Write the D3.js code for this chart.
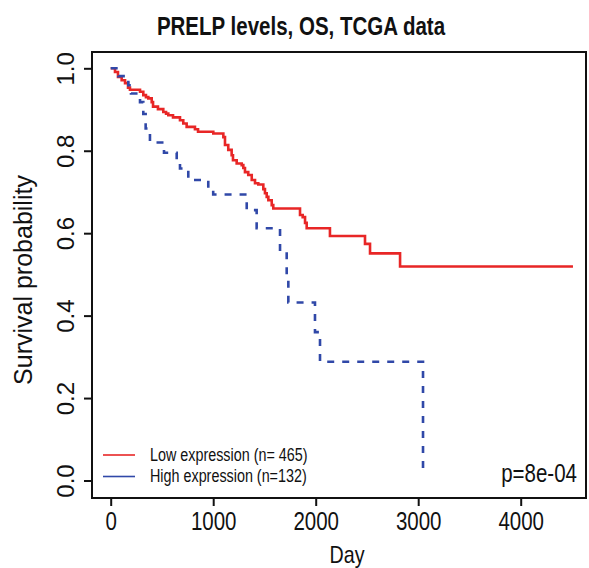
<!DOCTYPE html>
<html>
<head>
<meta charset="utf-8">
<script src="https://cdn.jsdelivr.net/npm/d3@7"></script>
<style>
body { margin: 0; background: #fff; }
text { font-family: "Liberation Sans", Arial, sans-serif; fill: #111; }
</style>
</head>
<body>
<div id="graph"></div>
<script>
var svgWidth = 589;
var svgHeight = 568;

// Low expression (n=465), Kaplan-Meier steps
var lowDays = [0, 42, 71, 107, 140, 169, 188, 286, 318, 344, 367, 400, 413, 461, 513, 540, 562, 608, 676, 708, 741, 822, 852, 1001, 1099, 1115, 1147, 1180, 1193, 1229, 1278, 1294, 1310, 1342, 1376, 1408, 1440, 1489, 1505, 1522, 1538, 1571, 1586, 1847, 1873, 1896, 1912, 2139, 2481, 2530, 2823, 4510];
var lowSurv = [1.0, 0.991, 0.979, 0.971, 0.964, 0.953, 0.948, 0.943, 0.935, 0.930, 0.927, 0.918, 0.907, 0.901, 0.894, 0.890, 0.886, 0.881, 0.874, 0.866, 0.858, 0.852, 0.846, 0.842, 0.833, 0.814, 0.802, 0.789, 0.777, 0.769, 0.765, 0.758, 0.748, 0.741, 0.729, 0.721, 0.718, 0.707, 0.697, 0.688, 0.680, 0.668, 0.660, 0.644, 0.639, 0.625, 0.612, 0.593, 0.574, 0.551, 0.519, 0.519];

// High expression (n=132)
var highDays = [0, 74, 172, 198, 286, 318, 341, 383, 520, 644, 676, 757, 952, 1000, 1327, 1424, 1652, 1717, 1733, 1993, 2042, 3047];
var highSurv = [1.0, 0.981, 0.959, 0.939, 0.918, 0.889, 0.854, 0.820, 0.795, 0.777, 0.757, 0.729, 0.705, 0.694, 0.656, 0.612, 0.555, 0.498, 0.432, 0.360, 0.288, 0.02];

var xTicks = [0, 1000, 2000, 3000, 4000];
var yTicks = [0.0, 0.2, 0.4, 0.6, 0.8, 1.0];

var legendLabels = ["Low expression (n= 465)", "High expression (n=132)"];
var colors = ["rgb(232,38,38)", "rgb(48,72,168)"];
var pText = "p=8e-04";

var box = {left: 92, right: 586, top: 52, bottom: 498};
var squeeze = 0.82;

var svg = d3.select("#graph")
	.append("svg")
	.attr("width", svgWidth)
	.attr("height", svgHeight);

var x = d3.scaleLinear().domain([0, 4000]).range([110.7, 520.7]);
var y = d3.scaleLinear().domain([0, 1]).range([480.5, 68.3]);

var line = d3.line()
	.x(d => x(d[0]))
	.y(d => y(d[1]))
	.curve(d3.curveStepAfter);

var lowData = lowDays.map((d, i) => [d, lowSurv[i]]);
var highData = highDays.map((d, i) => [d, highSurv[i]]);

svg.append("path")
	.datum(lowData)
	.attr("d", line)
	.attr("fill", "none")
	.attr("stroke", colors[0])
	.attr("stroke-width", 2.6);

svg.append("path")
	.datum(highData)
	.attr("d", line)
	.attr("fill", "none")
	.attr("stroke", colors[1])
	.attr("stroke-width", 2.6)
	.attr("stroke-dasharray", "7,8");

// box
svg.append("rect")
	.attr("x", box.left)
	.attr("y", box.top)
	.attr("width", box.right - box.left)
	.attr("height", box.bottom - box.top)
	.attr("fill", "none")
	.attr("stroke", "#111")
	.attr("stroke-width", 2);

// x axis
var xAxis = svg.append("g")
	.attr("transform", "translate(0," + box.bottom + ")")
	.call(d3.axisBottom(x).tickValues(xTicks).tickSize(8).tickFormat(d3.format("d")));
xAxis.select(".domain").remove();
xAxis.selectAll("line").attr("stroke", "#111").attr("stroke-width", 2);
xAxis.selectAll("text")
	.attr("font-size", 25)
	.attr("dy", null)
	.attr("y", 32)
	.attr("x", 0)
	.attr("class", "narrow");

// y axis
var yAxis = svg.append("g")
	.attr("transform", "translate(" + box.left + ",0)")
	.call(d3.axisLeft(y).tickValues(yTicks).tickSize(8).tickFormat(d3.format(".1f")));
yAxis.select(".domain").remove();
yAxis.selectAll("line").attr("stroke", "#111").attr("stroke-width", 2);
yAxis.selectAll("text").remove();
yAxis.selectAll(".tick")
	.append("text")
	.attr("transform", "translate(-18,0) rotate(-90)")
	.attr("text-anchor", "middle")
	.attr("font-size", 24)
	.attr("fill", "#111")
	.text(d => d3.format(".1f")(d));

// titles
svg.append("text")
	.attr("class", "narrow")
	.attr("x", 301)
	.attr("y", 35)
	.attr("text-anchor", "middle")
	.attr("font-size", 25)
	.attr("font-weight", "bold")
	.text("PRELP levels, OS, TCGA data");

svg.append("text")
	.attr("class", "narrow")
	.attr("x", 347)
	.attr("y", 563)
	.attr("text-anchor", "middle")
	.attr("font-size", 24)
	.text("Day");

svg.append("text")
	.attr("transform", "translate(32,280) rotate(-90)")
	.attr("text-anchor", "middle")
	.attr("font-size", 25)
	.text("Survival probability");

// legend
legendLabels.forEach(function (lab, i) {
	var ly = 455 + i * 21.5;
	svg.append("line")
		.attr("x1", 103).attr("x2", 135)
		.attr("y1", ly).attr("y2", ly)
		.attr("stroke", colors[i])
		.attr("stroke-width", 1.6);
	svg.append("text")
		.attr("class", "narrow")
		.attr("x", 150)
		.attr("y", ly + 6)
		.attr("font-size", 17.5)
		.text(lab);
});

svg.append("text")
	.attr("class", "narrow")
	.attr("x", 577)
	.attr("y", 482)
	.attr("text-anchor", "end")
	.attr("font-size", 25)
	.text(pText);

// squeeze the horizontal text, the reference looks narrow
svg.selectAll("text.narrow").each(function () {
	var t = d3.select(this);
	t.attr("x", +t.attr("x") / squeeze)
		.attr("transform", "scale(" + squeeze + ",1)");
});
</script>
</body>
</html>
